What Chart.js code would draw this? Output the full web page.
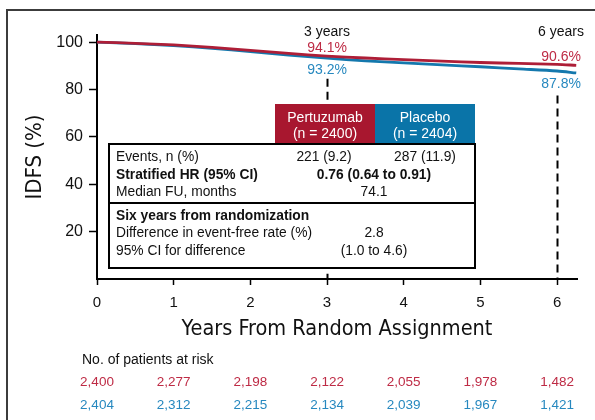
<!DOCTYPE html>
<html>
<head>
<meta charset="utf-8">
<script src="https://cdn.jsdelivr.net/npm/chart.js@4.4.0/dist/chart.umd.min.js"></script>
<style>
html,body{margin:0;padding:0;background:#fff;}
#wrap{position:relative;width:595px;height:420px;}
</style>
</head>
<body>
<div id="wrap"><canvas id="c" width="595" height="420"></canvas></div>
<script>
// ---- data ----
const years = [0, 0.5, 1, 1.5, 2, 2.5, 3, 3.5, 4, 4.5, 5, 5.5, 6, 6.25];
const pertuzumab = [100, 99.5, 98.8, 97.8, 96.5, 95.2, 94.1, 93.3, 92.6, 92.0, 91.4, 91.0, 90.6, 90.2];
const placebo    = [100, 99.4, 98.5, 97.4, 96.0, 94.5, 93.2, 92.1, 91.2, 90.4, 89.6, 88.7, 87.8, 87.0];
const xTicks = [0, 1, 2, 3, 4, 5, 6];
const yTicks = [20, 40, 60, 80, 100];
const riskYears = [0, 1, 2, 3, 4, 5, 6];
const riskPertuzumab = ['2,400', '2,277', '2,198', '2,122', '2,055', '1,978', '1,482'];
const riskPlacebo    = ['2,404', '2,312', '2,215', '2,134', '2,039', '1,967', '1,421'];
const landmarkYears = [3, 6];
const landmarkLabels = ['3 years', '6 years'];
const landmarkPertuzumab = ['94.1%', '90.6%'];
const landmarkPlacebo = ['93.2%', '87.8%'];
const armNames = ['Pertuzumab', 'Placebo'];
const armN = ['(n = 2400)', '(n = 2404)'];
const tableRows1 = [
  ['Events, n (%)', '221 (9.2)', '287 (11.9)', false],
  ['Stratified HR (95% CI)', '0.76 (0.64 to 0.91)', null, true],
  ['Median FU, months', '74.1', null, false]
];
const tableRows2 = [
  ['Six years from randomization', null, null, true],
  ['Difference in event-free rate (%)', '2.8', null, false],
  ['95% CI for difference', '(1.0 to 4.6)', null, false]
];

const RED = '#AE1E37', BLUE = '#1478AD';
const RED_T = '#BE2B45', BLUE_T = '#2688BF';
const HDR_RED = '#A8172F', HDR_BLUE = '#0A74A8';
const SANS = '"Liberation Sans", Arial, sans-serif';
const NARROW = '"Liberation Sans Narrow", "DejaVu Sans Condensed", "Liberation Sans", sans-serif';

const decor = {
  id: 'decor',
  beforeDraw(chart) {
    const ctx = chart.ctx;
    ctx.save();
    ctx.fillStyle = '#fff';
    ctx.fillRect(0, 0, chart.width, chart.height);
    ctx.strokeStyle = '#3c3c3c';
    ctx.lineWidth = 2;
    ctx.beginPath();
    ctx.moveTo(7, 420); ctx.lineTo(7, 10); ctx.lineTo(595, 10);
    ctx.stroke();
    ctx.restore();
  },
  beforeDatasetsDraw(chart) {
    const ctx = chart.ctx, xs = chart.scales.x, ys = chart.scales.y;
    ctx.save();
    ctx.strokeStyle = '#000';
    ctx.lineWidth = 2;
    ctx.setLineDash([8, 5]);
    const starts = [84.5, 77.5];
    landmarkYears.forEach((yr, i) => {
      const px = Math.round(xs.getPixelForValue(yr)) + 0.5;
      ctx.beginPath();
      ctx.moveTo(px, ys.getPixelForValue(starts[i]));
      ctx.lineTo(px, ys.getPixelForValue(0));
      ctx.stroke();
    });
    ctx.restore();
  },
  afterDatasetsDraw(chart) {
    const ctx = chart.ctx, xs = chart.scales.x;
    ctx.save();
    ctx.textAlign = 'center';
    ctx.textBaseline = 'middle';
    // landmark labels
    landmarkYears.forEach((yr, i) => {
      const px = xs.getPixelForValue(yr) + (i === 1 ? 4 : 0);
      ctx.font = '14px ' + SANS;
      ctx.fillStyle = '#111';
      ctx.fillText(landmarkLabels[i], px, 32);
      ctx.fillStyle = RED_T;
      ctx.fillText(landmarkPertuzumab[i], px, i === 0 ? 48 : 57);
      ctx.fillStyle = BLUE_T;
      ctx.fillText(landmarkPlacebo[i], px, i === 0 ? 70 : 84);
    });
    // header cells
    const hx = [275, 375, 475], hTop = 104, hBot = 144;
    [HDR_RED, HDR_BLUE].forEach((c, i) => {
      ctx.fillStyle = c;
      ctx.fillRect(hx[i], hTop, hx[i + 1] - hx[i], hBot - hTop);
      ctx.fillStyle = '#fff';
      ctx.font = '14px ' + SANS;
      const cx = (hx[i] + hx[i + 1]) / 2;
      ctx.fillText(armNames[i], cx, 118);
      ctx.fillText(armN[i], cx, 134);
    });
    // table box
    const bL = 109, bR = 475, bT = 144, bM = 203, bB = 268;
    ctx.fillStyle = '#fff';
    ctx.fillRect(bL, bT, bR - bL, bB - bT);
    ctx.strokeStyle = '#000';
    ctx.lineWidth = 2;
    ctx.strokeRect(bL, bT, bR - bL, bB - bT);
    ctx.beginPath(); ctx.moveTo(bL, bM); ctx.lineTo(bR, bM); ctx.stroke();
    const rowY1 = [157, 175, 192], rowY2 = [216, 233, 251];
    const drawRows = (rows, ys) => {
      rows.forEach((r, i) => {
        const w = r[3] ? 'bold ' : '';
        ctx.font = w + '13.8px ' + SANS;
        ctx.fillStyle = '#111';
        ctx.textAlign = 'left';
        ctx.fillText(r[0], 116, ys[i]);
        ctx.textAlign = 'center';
        if (r[1] !== null && r[2] !== null) {
          ctx.fillText(r[1], 324, ys[i]);
          ctx.fillText(r[2], 425, ys[i]);
        } else if (r[1] !== null) {
          ctx.fillText(r[1], 374, ys[i]);
        }
      });
    };
    drawRows(tableRows1, rowY1);
    drawRows(tableRows2, rowY2);
    // risk table
    ctx.textAlign = 'left';
    ctx.fillStyle = '#111';
    ctx.font = '14px ' + SANS;
    ctx.fillText('No. of patients at risk', 82, 360);
    ctx.textAlign = 'center';
    ctx.font = '13.5px ' + SANS;
    riskYears.forEach((yr, i) => {
      const px = xs.getPixelForValue(yr);
      ctx.fillStyle = RED_T;
      ctx.fillText(riskPertuzumab[i], px, 382);
      ctx.fillStyle = BLUE_T;
      ctx.fillText(riskPlacebo[i], px, 405);
    });
    ctx.restore();
  }
};

new Chart(document.getElementById('c'), {
  type: 'line',
  data: {
    datasets: [
      { label: 'Pertuzumab', data: years.map((x, i) => ({ x, y: pertuzumab[i] })),
        borderColor: RED, borderWidth: 2.8, pointRadius: 0, tension: 0.3, fill: false },
      { label: 'Placebo', data: years.map((x, i) => ({ x, y: placebo[i] })),
        borderColor: BLUE, borderWidth: 2.8, pointRadius: 0, tension: 0.3, fill: false }
    ]
  },
  options: {
    responsive: false,
    animation: false,
    devicePixelRatio: 1,
    layout: { padding: { top: 35, right: 18, left: 0, bottom: 0 } },
    plugins: { legend: { display: false }, tooltip: { enabled: false } },
    scales: {
      x: {
        type: 'linear', min: 0, max: 6.26,
        afterBuildTicks: s => { s.ticks = xTicks.map(v => ({ value: v })); },
        afterFit: s => { s.height = 141; },
        grid: { drawOnChartArea: false, drawTicks: true, tickLength: 6, tickWidth: 1.5, tickColor: '#000' },
        border: { display: true, color: '#000', width: 2 },
        ticks: { color: '#111', font: { size: 15, family: SANS }, padding: 9, maxRotation: 0 },
        title: { display: true, text: 'Years From Random Assignment', color: '#111',
          font: { size: 21.5, family: NARROW }, padding: { bottom: 78, top: 0 } }
      },
      y: {
        min: 0, max: 103,
        afterBuildTicks: s => { s.ticks = yTicks.map(v => ({ value: v })); },
        afterFit: s => { s.width = 97; },
        grid: { drawOnChartArea: false, drawTicks: true, tickLength: 8, tickWidth: 1.5, tickColor: '#000' },
        border: { display: true, color: '#000', width: 2 },
        ticks: { color: '#111', font: { size: 16, family: SANS }, padding: 6 },
        title: { display: true, text: 'IDFS (%)', color: '#111',
          font: { size: 22, family: NARROW }, padding: { top: 22, bottom: 0 } }
      }
    }
  },
  plugins: [decor]
});
</script>
</body>
</html>
